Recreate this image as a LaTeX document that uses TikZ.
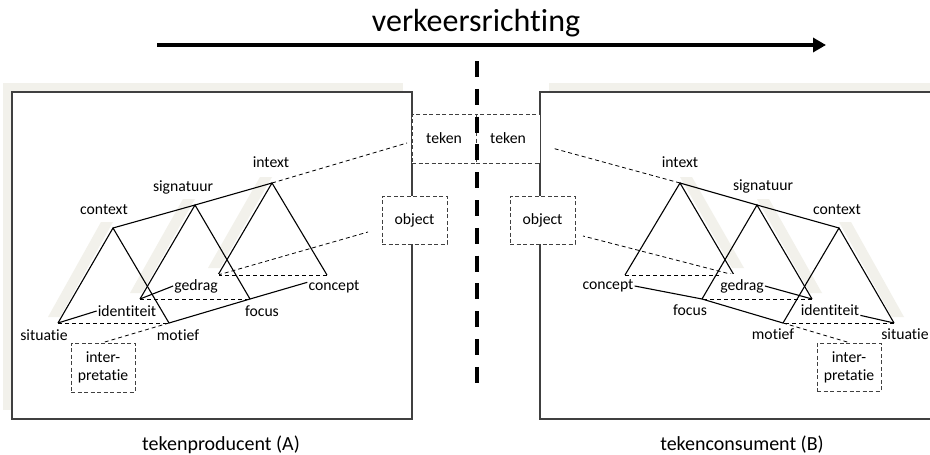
\documentclass[tikz,border=0pt]{standalone}
\usepackage{fontspec}
\setmainfont{Carlito}[Ligatures=NoCommon]
\usetikzlibrary{arrows.meta}
\definecolor{shadowbeige}{RGB}{242,241,235}
\definecolor{edge}{RGB}{64,64,64}
\begin{document}
\begin{tikzpicture}[x=1pt,y=-1pt,
  lbl/.style={font=\fontsize{15.7pt}{18pt}\selectfont, fill=white, inner sep=1pt},
  dbox/.style={draw=edge, dash pattern=on 4pt off 2.5pt, fill=white, line width=0.9pt,
               font=\fontsize{15.7pt}{18pt}\selectfont, inner sep=0pt, align=center},
  frame/.style={draw=edge, line width=1.2pt, fill=white},
  tri/.style={draw=black, line width=1.1pt},
  link/.style={draw=black, line width=0.8pt, dash pattern=on 4pt off 3pt},
  capt/.style={font=\fontsize{20pt}{24pt}\selectfont},
  shadowfill/.style={fill=shadowbeige},
]
\path[use as bounding box] (0,0) rectangle (930,455);
\clip (0,0) rectangle (930,455);
\fill[white] (0,0) rectangle (930,455);

% frames with shadows
\path[shadowfill] (3,83) rectangle (403,410);
\path[shadowfill] (549,83) rectangle (954,410);
\path[frame] (12,92) rectangle (412,419);
\path[frame] (540,92) rectangle (945,419);

% triangle shadows (left)
\path[shadowfill] (101,222) -- (113,222) -- (60,317) -- (48,317) -- cycle;
\path[shadowfill] (183,199) -- (195,199) -- (142,293) -- (130,293) -- cycle;
\path[shadowfill] (260,177) -- (272,177) -- (220,268) -- (208,268) -- cycle;
% triangle shadows (right)
\path[shadowfill] (851,222) -- (839,222) -- (892,317) -- (904,317) -- cycle;
\path[shadowfill] (769,199) -- (757,199) -- (810,293) -- (822,293) -- cycle;
\path[shadowfill] (692,177) -- (680,177) -- (732,268) -- (744,268) -- cycle;

% left structure points
\coordinate (A1) at (113,228); \coordinate (L1) at (58,323);  \coordinate (R1) at (169,323);
\coordinate (A2) at (195,205); \coordinate (L2) at (140,299); \coordinate (R2) at (250,299);
\coordinate (A3) at (272,183); \coordinate (L3) at (218,275); \coordinate (R3) at (327,275);
% right structure points
\coordinate (B1) at (839,228); \coordinate (M1) at (894,323); \coordinate (S1) at (783,323);
\coordinate (B2) at (757,205); \coordinate (M2) at (812,299); \coordinate (S2) at (702,299);
\coordinate (B3) at (680,183); \coordinate (M3) at (734,275); \coordinate (S3) at (625,275);
% free ends of dashed links
\coordinate (tk1) at (407,143); \coordinate (tk2) at (552,148);
\coordinate (ob1) at (368,232); \coordinate (ob2) at (583,236);

% left triangles
\draw[tri] (L1) -- (A1) -- (R1);
\draw[tri] (L2) -- (A2) -- (R2);
\draw[tri] (L3) -- (A3) -- (R3);
\draw[tri] (A1) -- (A2) -- (A3);
\draw[tri] (R1) -- (R2);
\draw[link] (L1) -- (R1);
\draw[link] (L2) -- (R2);
\draw[link] (L3) -- (R3);
\draw[link] (A3) -- (tk1);
\draw[link] (L3) -- (ob1);
% right triangles
\draw[tri] (M1) -- (B1) -- (S1);
\draw[tri] (M2) -- (B2) -- (S2);
\draw[tri] (M3) -- (B3) -- (S3);
\draw[tri] (B1) -- (B2) -- (B3);
\draw[tri] (S1) -- (S2);
\draw[link] (M1) -- (S1);
\draw[link] (M2) -- (S2);
\draw[link] (M3) -- (S3);
\draw[link] (B3) -- (tk2);
\draw[link] (M3) -- (ob2);

% boxes
\node[dbox, minimum width=64pt, minimum height=49pt] (tekenL) at (444,138.5) {teken};
\node[dbox, minimum width=64pt, minimum height=49pt] (tekenR) at (508,138.5) {teken};
\node[dbox, minimum width=65pt, minimum height=48pt] (objL) at (414.5,220) {object};
\node[dbox, minimum width=65pt, minimum height=48pt] (objR) at (542.5,220) {object};
\node[dbox, minimum width=64pt, minimum height=49pt] (interpL) at (103,367.5) {inter-\\pretatie};
\node[dbox, minimum width=64pt, minimum height=48pt] (interpR) at (849,367) {inter-\\pretatie};
\draw[link] (R1) -- (interpL.north);
\draw[link] (S1) -- (interpR.north);

% left labels
\node[lbl] (contextL) at (104,210) {context};
\node[lbl] (signL) at (183,187) {signatuur};
\node[lbl] (intextL) at (271,162) {intext};
\node[lbl] (situatieL) at (44,335) {situatie};
\node[lbl] (identL) at (127,311) {identiteit};
\node[lbl] (motiefL) at (178,335) {motief};
\node[lbl, minimum height=24pt] (gedragL) at (196,286) {gedrag};
\node[lbl] (focusL) at (262,311) {focus};
\node[lbl] (conceptL) at (334,287) {concept};
\draw[tri] (L1) -- (identL.west);
\draw[tri] (L2) -- (gedragL.west);
\draw[tri] (R2) -- (conceptL.170);
% right labels
\node[lbl] (contextR) at (837,210) {context};
\node[lbl] (signR) at (763,186) {signatuur};
\node[lbl] (intextR) at (680,162) {intext};
\node[lbl] (situatieR) at (905,334) {situatie};
\node[lbl] (identR) at (830,310) {identiteit};
\node[lbl] (motiefR) at (773,334) {motief};
\node[lbl, minimum height=24pt] (gedragR) at (742,286) {gedrag};
\node[lbl] (focusR) at (690,310) {focus};
\node[lbl] (conceptR) at (608,286) {concept};
\draw[tri] (M1) -- (identR.350);
\draw[tri] (M2) -- (gedragR.east);
\draw[tri] (S2) -- (conceptR.east);

% divider
\coordinate (dv1) at (476.5,61); \coordinate (dv2) at (476.5,384);
\draw[line width=4pt, dash pattern=on 16pt off 11.8pt] (dv1) -- (dv2);

% direction arrow
\node[font=\fontsize{32pt}{38pt}\selectfont] (title) at (476,23) {verkeersrichting};
\coordinate (ar1) at (157,45); \coordinate (ar2) at (826,45);
\draw[line width=4pt, -{Triangle[length=13pt,width=14pt]}] (ar1) -- (ar2);

% captions
\node[capt] (capA) at (221,445) {tekenproducent (A)};
\node[capt] (capB) at (742,445) {tekenconsument (B)};
\end{tikzpicture}
\end{document}
